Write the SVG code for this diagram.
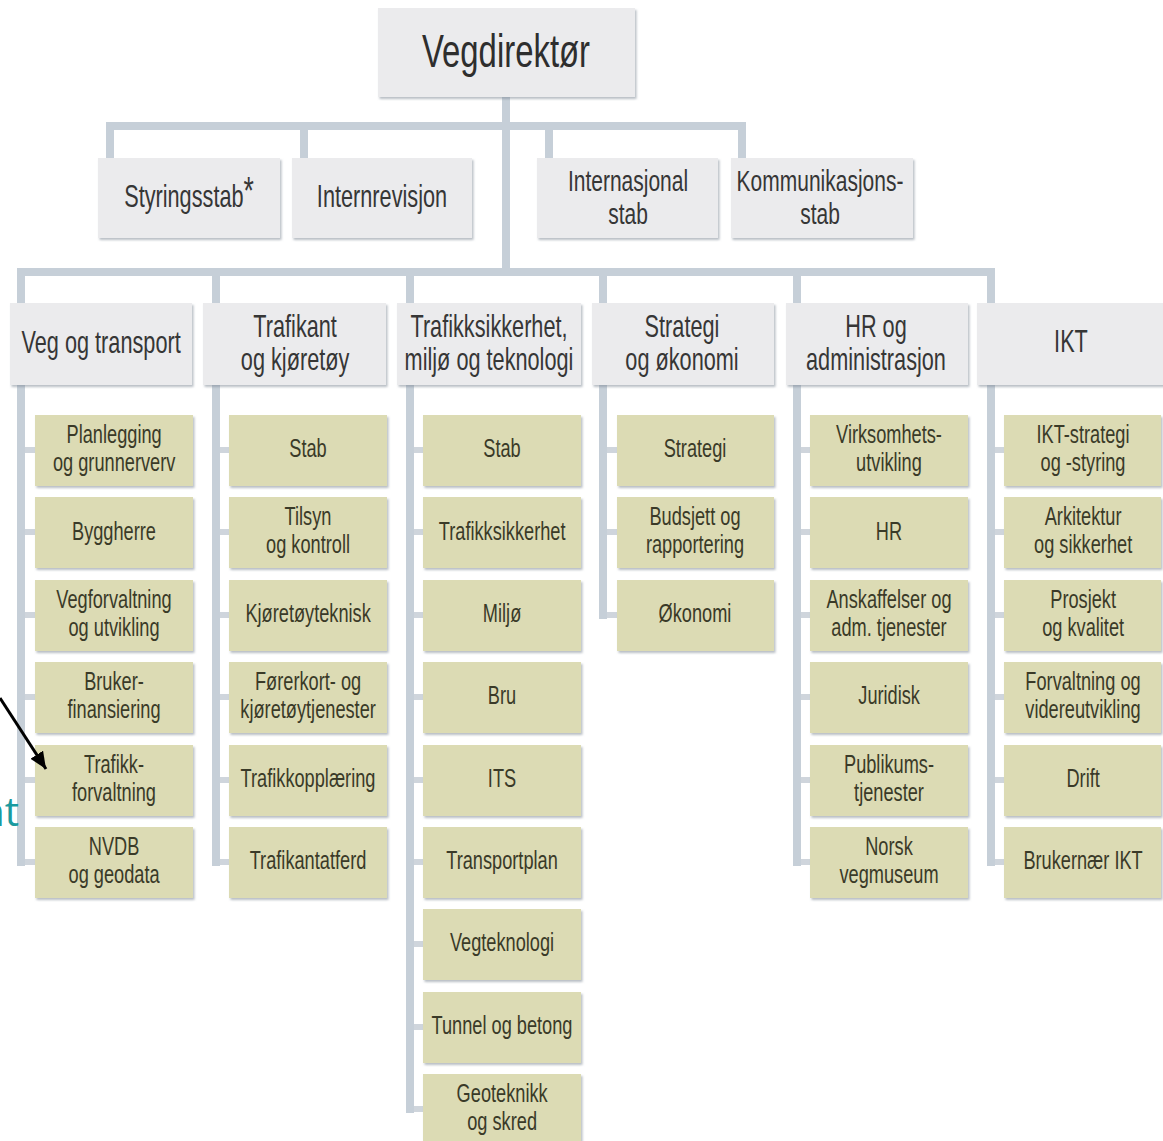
<svg xmlns="http://www.w3.org/2000/svg" width="1163" height="1141" viewBox="0 0 1163 1141">
<style>
.b1{fill:#ebebed;filter:url(#sh)}
.b3{fill:#dcdbb4;filter:url(#sh)}
.c{fill:#c6cfd8}
.s{fill:#cfd5dc}
.t{font-family:"Liberation Sans",Arial,sans-serif;text-anchor:middle;transform-box:fill-box;transform-origin:50% 50%;transform:scaleX(0.7)}
.h0{font-size:47px;fill:#2e2e2e}
.h1{font-size:31px;fill:#363636}
.h2{font-size:30px;fill:#363636}
.h3{font-size:26px;fill:#3a3a28}
.note{font-family:"Open Sans","Liberation Sans",sans-serif;font-size:40px;fill:#1a9aa0;text-anchor:end}
</style>
<defs>
<filter id="sh" x="-5%" y="-5%" width="115%" height="125%"><feDropShadow dx="1.5" dy="2" stdDeviation="1.2" flood-color="#7d8894" flood-opacity="0.55"/></filter>
<marker id="ah" markerUnits="userSpaceOnUse" markerWidth="18" markerHeight="16" refX="17" refY="7.5" orient="auto"><path d="M0,0 L17,7.5 L0,15 z" fill="#000"/></marker>
</defs>
<rect width="1163" height="1141" fill="#fff"/>
<g id="connectors">
<rect class="c" x="502" y="97" width="8" height="179"/>
<rect class="c" x="106" y="122" width="640" height="8"/>
<rect class="c" x="106" y="122" width="8" height="36"/>
<rect class="c" x="300" y="122" width="8" height="36"/>
<rect class="c" x="545" y="122" width="8" height="36"/>
<rect class="c" x="738" y="122" width="8" height="36"/>
<rect class="c" x="17" y="268" width="978" height="8"/>
<rect class="c" x="17" y="268" width="8" height="35"/>
<rect class="c" x="212" y="268" width="8" height="35"/>
<rect class="c" x="406" y="268" width="8" height="35"/>
<rect class="c" x="599" y="268" width="8" height="35"/>
<rect class="c" x="793" y="268" width="8" height="35"/>
<rect class="c" x="987" y="268" width="8" height="35"/>
<rect class="c" x="17" y="385" width="8" height="481"/>
<rect class="c" x="212" y="385" width="8" height="481"/>
<rect class="c" x="406" y="385" width="8" height="728"/>
<rect class="c" x="599" y="385" width="8" height="234"/>
<rect class="c" x="793" y="385" width="8" height="481"/>
<rect class="c" x="987" y="385" width="8" height="481"/>
<g id="stubs">
<rect class="s" x="25" y="447" width="10" height="6"/><rect class="s" x="25" y="529" width="10" height="6"/><rect class="s" x="25" y="612" width="10" height="6"/><rect class="s" x="25" y="694" width="10" height="6"/><rect class="s" x="25" y="777" width="10" height="6"/><rect class="s" x="25" y="859" width="10" height="6"/>
<rect class="s" x="220" y="447" width="9" height="6"/><rect class="s" x="220" y="529" width="9" height="6"/><rect class="s" x="220" y="612" width="9" height="6"/><rect class="s" x="220" y="694" width="9" height="6"/><rect class="s" x="220" y="777" width="9" height="6"/><rect class="s" x="220" y="859" width="9" height="6"/>
<rect class="s" x="414" y="447" width="9" height="6"/><rect class="s" x="414" y="529" width="9" height="6"/><rect class="s" x="414" y="612" width="9" height="6"/><rect class="s" x="414" y="694" width="9" height="6"/><rect class="s" x="414" y="777" width="9" height="6"/><rect class="s" x="414" y="859" width="9" height="6"/><rect class="s" x="414" y="941" width="9" height="6"/><rect class="s" x="414" y="1024" width="9" height="6"/><rect class="s" x="414" y="1106" width="9" height="6"/>
<rect class="s" x="607" y="447" width="10" height="6"/><rect class="s" x="607" y="529" width="10" height="6"/><rect class="s" x="607" y="612" width="10" height="6"/>
<rect class="s" x="801" y="447" width="9" height="6"/><rect class="s" x="801" y="529" width="9" height="6"/><rect class="s" x="801" y="612" width="9" height="6"/><rect class="s" x="801" y="694" width="9" height="6"/><rect class="s" x="801" y="777" width="9" height="6"/><rect class="s" x="801" y="859" width="9" height="6"/>
<rect class="s" x="995" y="447" width="9" height="6"/><rect class="s" x="995" y="529" width="9" height="6"/><rect class="s" x="995" y="612" width="9" height="6"/><rect class="s" x="995" y="694" width="9" height="6"/><rect class="s" x="995" y="777" width="9" height="6"/><rect class="s" x="995" y="859" width="9" height="6"/>
</g>
</g>

<g id="vegdirektor"><rect class="b1" x="378" y="8" width="257" height="89"/><text class="t h0" x="506" y="67">Vegdirektør</text></g>

<g id="styringsstab"><rect class="b1" x="98" y="158" width="182" height="80"/><text class="t h1" x="189" y="207">Styringsstab<tspan font-size="38" dy="-3">*</tspan></text></g>
<g id="internrevisjon"><rect class="b1" x="292" y="158" width="180" height="80"/><text class="t h1" x="382" y="207">Internrevisjon</text></g>
<g id="internasjonal"><rect class="b1" x="537" y="158" width="181" height="80"/><text class="t h2" x="628" y="191">Internasjonal</text><text class="t h2" x="628" y="224">stab</text></g>
<g id="kommunikasjon"><rect class="b1" x="731" y="158" width="182" height="80"/><text class="t h2" x="820" y="191">Kommunikasjons-</text><text class="t h2" x="820" y="224">stab</text></g>

<g id="veg-og-transport"><rect class="b1" x="10" y="303" width="182" height="82"/><text class="t h1" x="101" y="353">Veg og transport</text></g>
<g id="trafikant"><rect class="b1" x="203" y="303" width="183" height="82"/><text class="t h1" x="295" y="337">Trafikant<tspan x="295" y="370">og kjøretøy</tspan></text></g>
<g id="trafikksikkerhet"><rect class="b1" x="397" y="303" width="184" height="82"/><text class="t h1" x="489" y="337">Trafikksikkerhet,<tspan x="489" y="370">miljø og teknologi</tspan></text></g>
<g id="strategi-okonomi"><rect class="b1" x="592" y="303" width="182" height="82"/><text class="t h1" x="682" y="337">Strategi<tspan x="682" y="370">og økonomi</tspan></text></g>
<g id="hr-adm"><rect class="b1" x="786" y="303" width="182" height="82"/><text class="t h1" x="876" y="337">HR og<tspan x="876" y="370">administrasjon</tspan></text></g>
<g id="ikt"><rect class="b1" x="977" y="303" width="190" height="82"/><text class="t h1" x="1071" y="352">IKT</text></g>

<g id="col1">
<g id="planlegging"><rect class="b3" x="35" y="415" width="158" height="71"/><text class="t h3" x="114" y="443">Planlegging<tspan x="114" y="471">og grunnerverv</tspan></text></g>
<g id="byggherre"><rect class="b3" x="35" y="497" width="158" height="71"/><text class="t h3" x="114" y="540">Byggherre</text></g>
<g id="vegforvaltning"><rect class="b3" x="35" y="580" width="158" height="71"/><text class="t h3" x="114" y="608">Vegforvaltning<tspan x="114" y="636">og utvikling</tspan></text></g>
<g id="brukerfinansiering"><rect class="b3" x="35" y="662" width="158" height="71"/><text class="t h3" x="114" y="690">Bruker-<tspan x="114" y="718">finansiering</tspan></text></g>
<g id="trafikkforvaltning"><rect class="b3" x="35" y="745" width="158" height="71"/><text class="t h3" x="114" y="773">Trafikk-<tspan x="114" y="801">forvaltning</tspan></text></g>
<g id="nvdb"><rect class="b3" x="35" y="827" width="158" height="71"/><text class="t h3" x="114" y="855">NVDB<tspan x="114" y="883">og geodata</tspan></text></g>
</g>

<g id="col2">
<g id="tk-stab"><rect class="b3" x="229" y="415" width="158" height="71"/><text class="t h3" x="308" y="457">Stab</text></g>
<g id="tilsyn"><rect class="b3" x="229" y="497" width="158" height="71"/><text class="t h3" x="308" y="525">Tilsyn<tspan x="308" y="553">og kontroll</tspan></text></g>
<g id="kjoretoyteknisk"><rect class="b3" x="229" y="580" width="158" height="71"/><text class="t h3" x="308" y="622">Kjøretøyteknisk</text></g>
<g id="forerkort"><rect class="b3" x="229" y="662" width="158" height="71"/><text class="t h3" x="308" y="690">Førerkort- og<tspan x="308" y="718">kjøretøytjenester</tspan></text></g>
<g id="trafikkopplaering"><rect class="b3" x="229" y="745" width="158" height="71"/><text class="t h3" x="308" y="787">Trafikkopplæring</text></g>
<g id="trafikantatferd"><rect class="b3" x="229" y="827" width="158" height="71"/><text class="t h3" x="308" y="869">Trafikantatferd</text></g>
</g>

<g id="col3">
<g id="tmt-stab"><rect class="b3" x="423" y="415" width="158" height="71"/><text class="t h3" x="502" y="457">Stab</text></g>
<g id="ts"><rect class="b3" x="423" y="497" width="158" height="71"/><text class="t h3" x="502" y="540">Trafikksikkerhet</text></g>
<g id="miljo"><rect class="b3" x="423" y="580" width="158" height="71"/><text class="t h3" x="502" y="622">Miljø</text></g>
<g id="bru"><rect class="b3" x="423" y="662" width="158" height="71"/><text class="t h3" x="502" y="704">Bru</text></g>
<g id="its"><rect class="b3" x="423" y="745" width="158" height="71"/><text class="t h3" x="502" y="787">ITS</text></g>
<g id="transportplan"><rect class="b3" x="423" y="827" width="158" height="71"/><text class="t h3" x="502" y="869">Transportplan</text></g>
<g id="vegteknologi"><rect class="b3" x="423" y="909" width="158" height="71"/><text class="t h3" x="502" y="951">Vegteknologi</text></g>
<g id="tunnel"><rect class="b3" x="423" y="992" width="158" height="71"/><text class="t h3" x="502" y="1034">Tunnel og betong</text></g>
<g id="geoteknikk"><rect class="b3" x="423" y="1074" width="158" height="71"/><text class="t h3" x="502" y="1102">Geoteknikk<tspan x="502" y="1130">og skred</tspan></text></g>
</g>

<g id="col4">
<g id="strategi"><rect class="b3" x="617" y="415" width="157" height="71"/><text class="t h3" x="695" y="457">Strategi</text></g>
<g id="budsjett"><rect class="b3" x="617" y="497" width="157" height="71"/><text class="t h3" x="695" y="525">Budsjett og<tspan x="695" y="553">rapportering</tspan></text></g>
<g id="okonomi"><rect class="b3" x="617" y="580" width="157" height="71"/><text class="t h3" x="695" y="622">Økonomi</text></g>
</g>

<g id="col5">
<g id="virksomhet"><rect class="b3" x="810" y="415" width="158" height="71"/><text class="t h3" x="889" y="443">Virksomhets-<tspan x="889" y="471">utvikling</tspan></text></g>
<g id="hr"><rect class="b3" x="810" y="497" width="158" height="71"/><text class="t h3" x="889" y="540">HR</text></g>
<g id="anskaffelser"><rect class="b3" x="810" y="580" width="158" height="71"/><text class="t h3" x="889" y="608">Anskaffelser og<tspan x="889" y="636">adm. tjenester</tspan></text></g>
<g id="juridisk"><rect class="b3" x="810" y="662" width="158" height="71"/><text class="t h3" x="889" y="704">Juridisk</text></g>
<g id="publikum"><rect class="b3" x="810" y="745" width="158" height="71"/><text class="t h3" x="889" y="773">Publikums-<tspan x="889" y="801">tjenester</tspan></text></g>
<g id="vegmuseum"><rect class="b3" x="810" y="827" width="158" height="71"/><text class="t h3" x="889" y="855">Norsk<tspan x="889" y="883">vegmuseum</tspan></text></g>
</g>

<g id="col6">
<g id="ikt-strategi"><rect class="b3" x="1004" y="415" width="157" height="71"/><text class="t h3" x="1083" y="443">IKT-strategi<tspan x="1083" y="471">og -styring</tspan></text></g>
<g id="arkitektur"><rect class="b3" x="1004" y="497" width="157" height="71"/><text class="t h3" x="1083" y="525">Arkitektur<tspan x="1083" y="553">og sikkerhet</tspan></text></g>
<g id="prosjekt"><rect class="b3" x="1004" y="580" width="157" height="71"/><text class="t h3" x="1083" y="608">Prosjekt<tspan x="1083" y="636">og kvalitet</tspan></text></g>
<g id="forvaltning"><rect class="b3" x="1004" y="662" width="157" height="71"/><text class="t h3" x="1083" y="690">Forvaltning og<tspan x="1083" y="718">videreutvikling</tspan></text></g>
<g id="drift"><rect class="b3" x="1004" y="745" width="157" height="71"/><text class="t h3" x="1083" y="787">Drift</text></g>
<g id="brukernaer"><rect class="b3" x="1004" y="827" width="157" height="71"/><text class="t h3" x="1083" y="869">Brukernær IKT</text></g>
</g>

<g id="annotation">
<line x1="0" y1="698" x2="46" y2="769" stroke="#000" stroke-width="3" marker-end="url(#ah)"/>
<text class="note" x="19" y="826">nt</text>
</g>
</svg>
